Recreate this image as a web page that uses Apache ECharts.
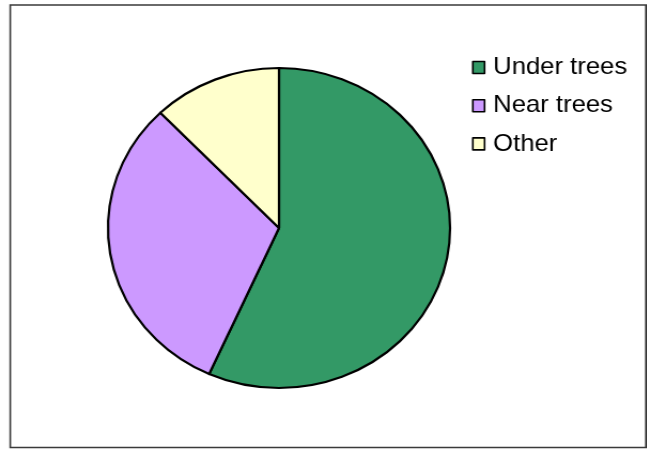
<!DOCTYPE html>
<html>
<head>
<meta charset="utf-8">
<script src="https://cdn.jsdelivr.net/npm/echarts@6/dist/echarts.min.js"></script>
<style>
html,body{margin:0;padding:0;background:#fff;overflow:hidden;}
#wrap{width:647px;height:449px;position:relative;overflow:hidden;}
#chart{position:absolute;left:0;top:0;height:449px;transform-origin:0 0;}
</style>
</head>
<body>
<div id="wrap"><div id="chart"></div></div>
<script>
const categories = ['Under trees', 'Near trees', 'Other'];
const values = [56.7, 31.1, 12.2];
const colors = ['#339966', '#CC99FF', '#FFFFCC'];

const S = 1.069; // horizontal stretch of the original picture
const W = 647 / S;
const el = document.getElementById('chart');
el.style.width = W + 'px';
el.style.transform = 'scaleX(' + S + ')';

const chart = echarts.init(el, null, {renderer: 'canvas', width: W, height: 449});
chart.setOption({
  backgroundColor: '#fff',
  animation: false,
  graphic: [{
    type: 'rect',
    shape: {x: 9.6, y: 5, width: 594.6, height: 442.5},
    style: {fill: 'none', stroke: '#3a3a3a', lineWidth: 1.6},
    silent: true
  }],
  legend: {
    orient: 'vertical',
    left: 441.5,
    top: 55.5,
    padding: 0,
    itemWidth: 11,
    itemHeight: 12,
    itemGap: 14.2,
    icon: 'rect',
    itemStyle: {borderColor: '#000', borderWidth: 1.6},
    textStyle: {fontFamily: 'Liberation Sans, Arial, sans-serif', fontSize: 24, color: '#000', padding: [0, 0, 0, 3]},
    data: categories
  },
  series: [{
    type: 'pie',
    center: [261, 228],
    radius: 160,
    startAngle: 90,
    clockwise: true,
    label: {show: false},
    labelLine: {show: false},
    emphasis: {disabled: true},
    itemStyle: {borderColor: '#000', borderWidth: 2.2},
    data: categories.map((c, i) => ({name: c, value: values[i], itemStyle: {color: colors[i]}}))
  }]
});
</script>
</body>
</html>
